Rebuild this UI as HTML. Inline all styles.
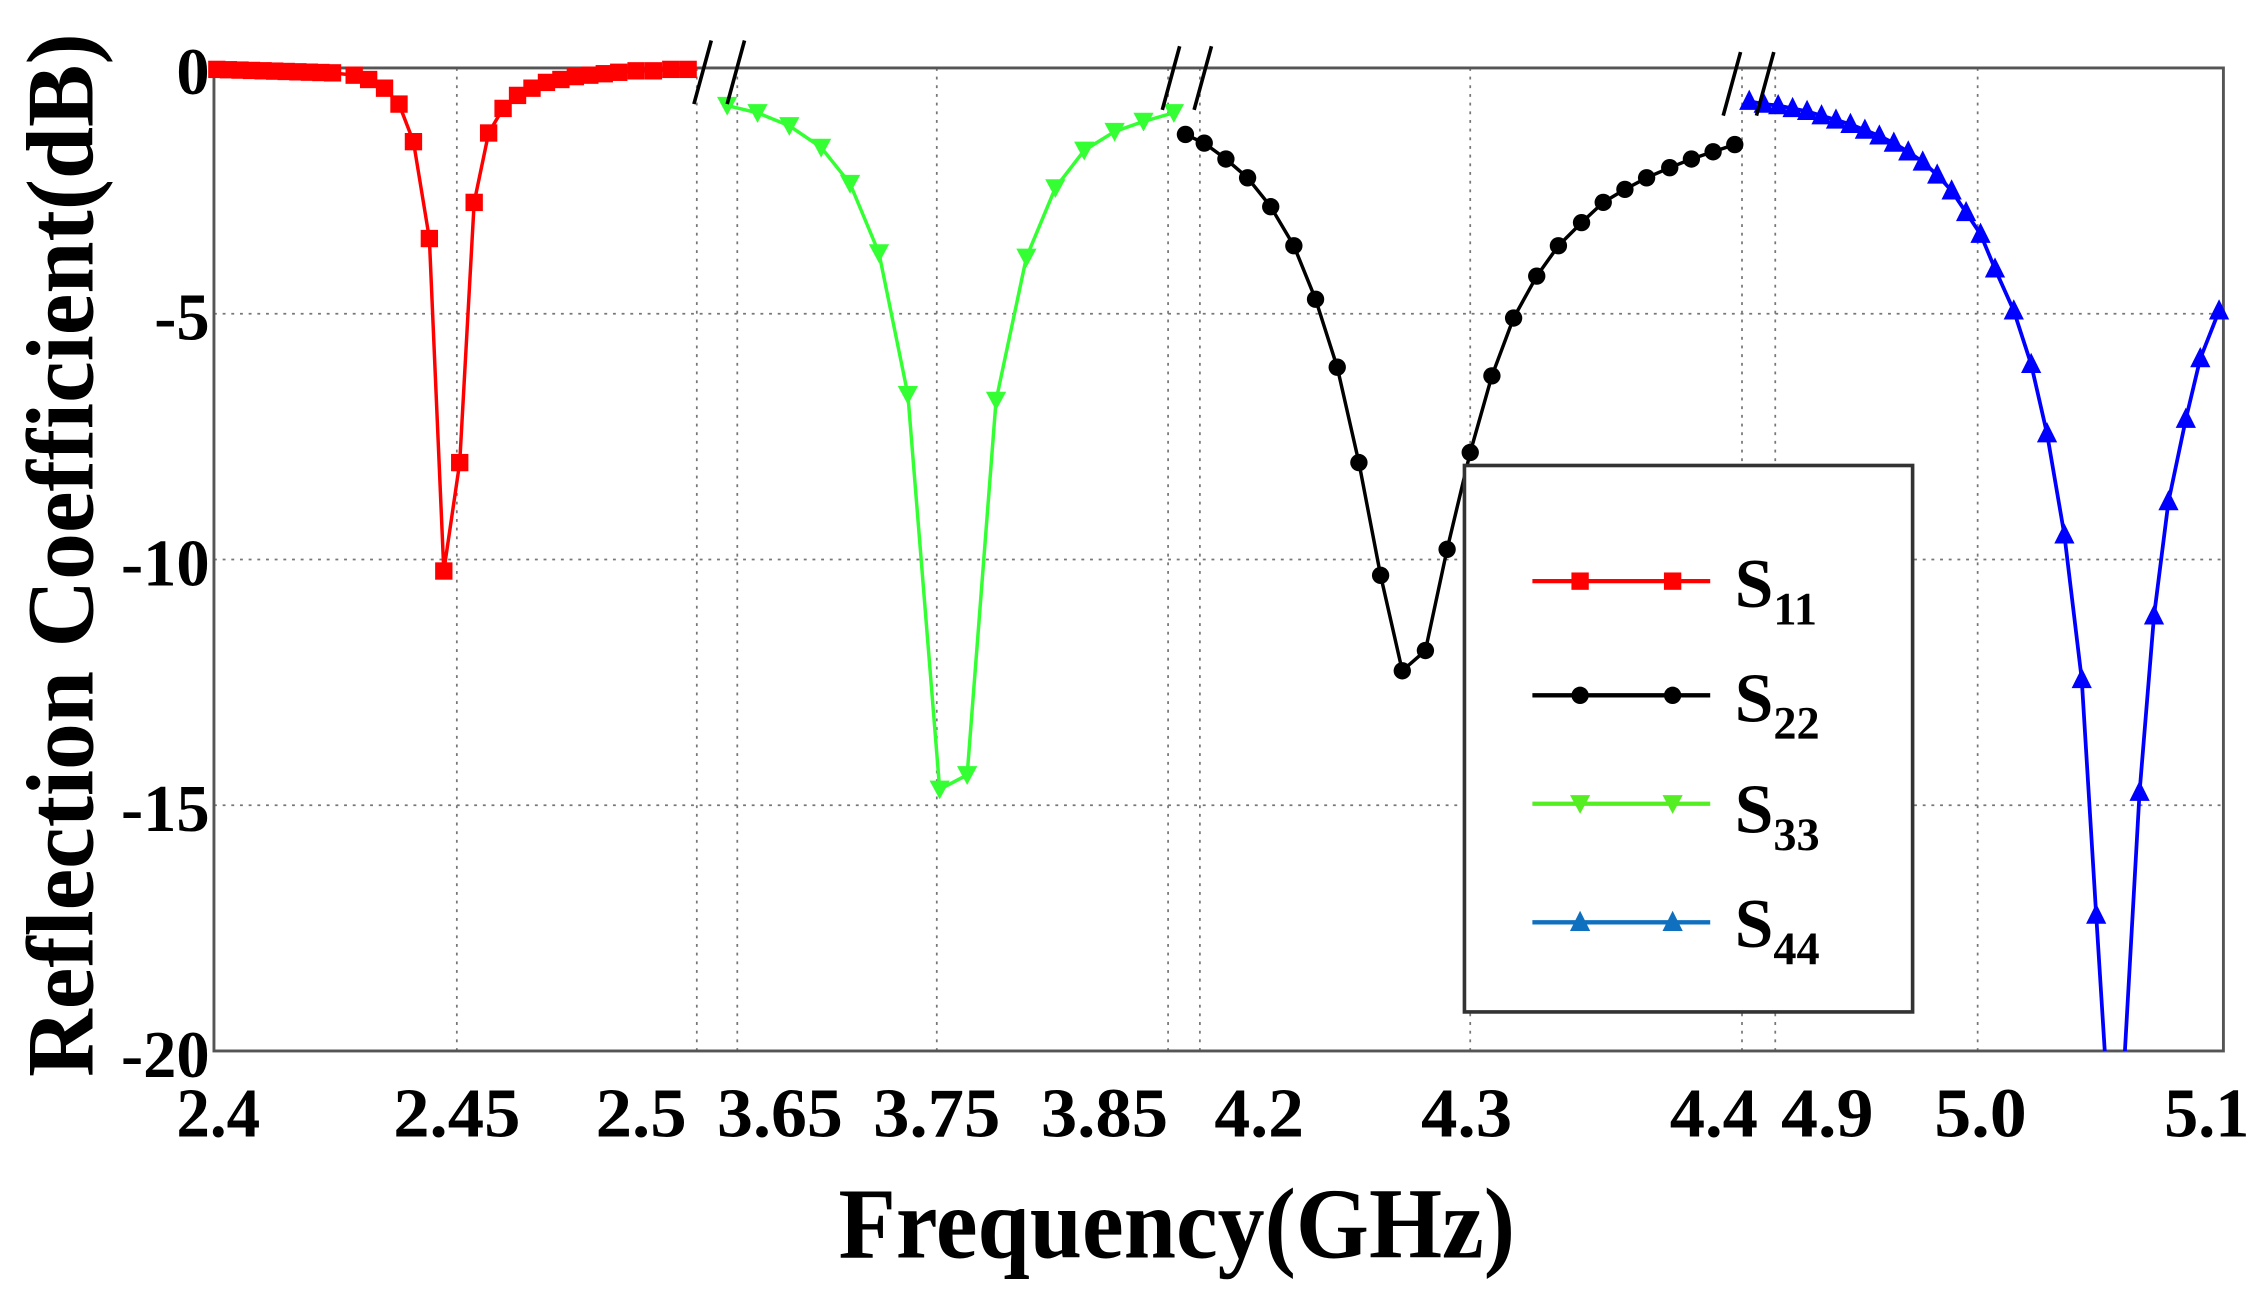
<!DOCTYPE html>
<html><head><meta charset="utf-8"><style>
html,body{margin:0;padding:0;background:#fff;width:2261px;height:1296px;overflow:hidden}
svg{display:block}
text{font-family:"Liberation Serif",serif;font-weight:bold;fill:#000}
</style></head><body>
<svg id="s" width="2261" height="1296" viewBox="0 0 1564 896.5" preserveAspectRatio="none" xmlns="http://www.w3.org/2000/svg">
<defs><clipPath id="cp"><rect x="140" y="20" width="1410" height="707"/></clipPath></defs>
<g stroke="#777" stroke-width="1.2" stroke-dasharray="2,4" fill="none">
<line x1="148" y1="217" x2="1538" y2="217"/><line x1="148" y1="387" x2="1538" y2="387"/><line x1="148" y1="557" x2="1538" y2="557"/>
<line x1="316" y1="47" x2="316" y2="727"/><line x1="482" y1="47" x2="482" y2="727"/><line x1="510" y1="47" x2="510" y2="727"/>
<line x1="648" y1="47" x2="648" y2="727"/><line x1="808" y1="47" x2="808" y2="727"/><line x1="830" y1="47" x2="830" y2="727"/>
<line x1="1017" y1="47" x2="1017" y2="727"/><line x1="1205" y1="47" x2="1205" y2="727"/><line x1="1228" y1="47" x2="1228" y2="727"/>
<line x1="1368" y1="47" x2="1368" y2="727"/>
</g>
<rect x="148" y="47" width="1390" height="680" fill="none" stroke="#555" stroke-width="2"/>
<g id="d" clip-path="url(#cp)"></g>
<g stroke="#000" stroke-width="2.5">
<line x1="480" y1="72" x2="492" y2="28"/><line x1="503" y1="72" x2="515" y2="28"/>
<line x1="804" y1="76" x2="816" y2="32"/><line x1="826" y1="76" x2="838" y2="32"/>
<line x1="1192" y1="80" x2="1204" y2="36"/><line x1="1215" y1="80" x2="1227" y2="36"/>
</g>
<rect x="1013" y="322" width="310" height="378" fill="#fff" stroke="#333" stroke-width="2.5"/>
<g id="lg"></g>
<g font-size="48">
<text x="1200" y="420">S<tspan font-size="32" dy="12">11</tspan></text>
<text x="1200" y="499">S<tspan font-size="32" dy="12">22</tspan></text>
<text x="1200" y="576">S<tspan font-size="32" dy="12">33</tspan></text>
<text x="1200" y="655">S<tspan font-size="32" dy="12">44</tspan></text>
</g>
<g font-size="46" text-anchor="end">
<text x="145" y="65">0</text><text x="145" y="235">-5</text><text x="145" y="405">-10</text><text x="145" y="575">-15</text><text x="145" y="745">-20</text>
</g>
<g font-size="48" lengthAdjust="spacingAndGlyphs">
<text x="122" y="786" textLength="58" lengthAdjust="spacingAndGlyphs">2.4</text>
<text x="272" y="786" textLength="88" lengthAdjust="spacingAndGlyphs">2.45</text>
<text x="412" y="786" textLength="63" lengthAdjust="spacingAndGlyphs">2.5</text>
<text x="496" y="786" textLength="87" lengthAdjust="spacingAndGlyphs">3.65</text>
<text x="604" y="786" textLength="88" lengthAdjust="spacingAndGlyphs">3.75</text>
<text x="720" y="786" textLength="88" lengthAdjust="spacingAndGlyphs">3.85</text>
<text x="840" y="786" textLength="62" lengthAdjust="spacingAndGlyphs">4.2</text>
<text x="983" y="786" textLength="63" lengthAdjust="spacingAndGlyphs">4.3</text>
<text x="1155" y="786" textLength="61" lengthAdjust="spacingAndGlyphs">4.4</text>
<text x="1232" y="786" textLength="64" lengthAdjust="spacingAndGlyphs">4.9</text>
<text x="1338" y="786" textLength="64" lengthAdjust="spacingAndGlyphs">5.0</text>
<text x="1497" y="786" textLength="59" lengthAdjust="spacingAndGlyphs">5.1</text>
</g>
<text x="580" y="870" font-size="70" textLength="468" lengthAdjust="spacingAndGlyphs">Frequency(GHz)</text>
<text transform="translate(64,384) rotate(-90)" font-size="66" text-anchor="middle" textLength="722" lengthAdjust="spacingAndGlyphs">Reflection Coefficient(dB)</text>
</svg>
<script>
var NS="http://www.w3.org/2000/svg",d=document.getElementById("d"),lg=document.getElementById("lg");
function el(p,t,a){var e=document.createElementNS(NS,t);for(var k in a)e.setAttribute(k,a[k]);p.appendChild(e);return e;}
function mk(p,type,x,y,c){
 if(type=="sq")el(p,"rect",{x:x-6,y:y-6,width:12,height:12,fill:c});
 else if(type=="ci")el(p,"circle",{cx:x,cy:y,r:6,fill:c});
 else if(type=="dn")el(p,"polygon",{points:(x-7)+","+(y-6)+" "+(x+7)+","+(y-6)+" "+x+","+(y+7),fill:c});
 else el(p,"polygon",{points:(x-7)+","+(y+6)+" "+(x+7)+","+(y+6)+" "+x+","+(y-8),fill:c});
}
function series(pts,c,type,w){
 el(d,"polyline",{points:pts.map(function(p){return p.join(",")}).join(" "),fill:"none",stroke:c,"stroke-width":w||2});
 pts.forEach(function(p){if(p[1]<726)mk(d,type,p[0],p[1],c);});
}
var red=[];for(var x=150;x<=235;x+=8)red.push([x,48+(x-150)*0.03]);
red=red.concat([[245,52],[255,55],[266,61],[276,72],[286,98],[297,165],[307,395],[318,320],[328,140],[338,92],[348,75],[358,66],[368,61],[378,57],[388,55],[398,53],[408,52],[418,51],[428,50],[440,49],[452,49],[464,48],[476,48]]);
series(red,"#f00","sq",2.4);
series([[503,73],[524,78],[546,87],[568,102],[588,127],[608,175],[628,273],[650,546],[669,536],[689,277],[710,178],[730,130],[750,104],[771,91],[791,84],[812,78]],"#3f3","dn",2.4);
series([[820,93],[833,99],[848,110],[863,123],[879,143],[895,170],[910,207],[925,254],[940,320],[955,398],[970,464],[986,450],[1001,380],[1017,313],[1032,260],[1047,220],[1063,191],[1078,170],[1094,154],[1109,140],[1124,131],[1139,123],[1155,116],[1170,110],[1185,105],[1200,100]],"#000","ci",2.4);
series([[1210,70],[1220,72],[1230,73],[1240,75],[1250,77],[1260,80],[1270,83],[1280,86],[1290,90],[1300,94],[1310,99],[1320,105],[1330,112],[1340,121],[1350,132],[1360,147],[1370,162],[1380,186],[1393,215],[1405,252],[1416,300],[1428,370],[1440,470],[1450,633],[1458,760],[1468,760],[1480,548],[1490,426],[1500,347],[1512,290],[1522,248],[1535,215]],"#00f","up",2.6);
var L=[[402,"#f00","sq"],[481,"#000","ci"],[556,"#5e2","dn"],[638,"#1070c0","up"]];
L.forEach(function(l){el(lg,"line",{x1:1060,y1:l[0],x2:1183,y2:l[0],stroke:l[1],"stroke-width":3});mk(lg,l[2],1093,l[0],l[1]);mk(lg,l[2],1157,l[0],l[1]);});
</script>
</body></html>
